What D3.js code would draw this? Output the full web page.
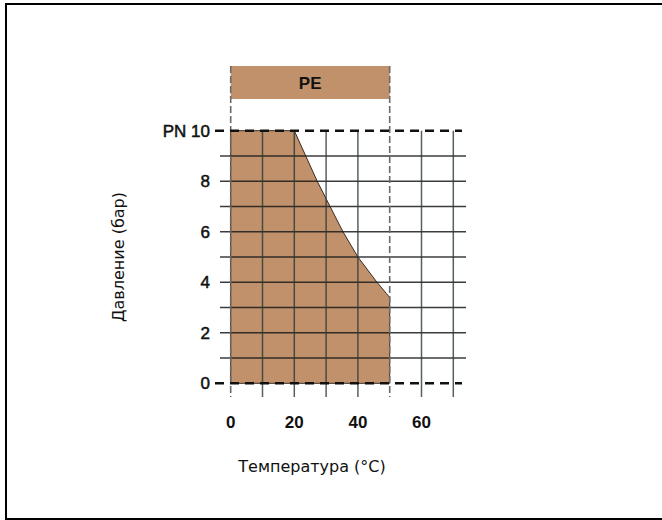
<!DOCTYPE html>
<html>
<head>
<meta charset="utf-8">
<script src="https://cdn.jsdelivr.net/npm/d3@7"></script>
<style>
  body { margin: 0; background: #fff; }
  svg { display: block; }
</style>
</head>
<body>
<div id="chart"></div>
<script>
// pressure / temperature envelope for PE
const tempPoints = [0, 0, 20, 27.2, 35.3, 40, 46, 49, 50, 50];
const pressPoints = [0, 10, 10, 8, 6, 5, 4, 3.55, 3.4, 0];
const xTicks = [0, 20, 40, 60];
const yTicks = [0, 2, 4, 6, 8, 10];
const yTickLabels = ["0", "2", "4", "6", "8", "PN 10"];
const xGrid = [10, 20, 30, 40, 60, 70];
const yGrid = [1, 2, 3, 4, 5, 6, 7, 8, 9];
const bandLabel = "PE";
const bandRange = [0, 50];
const xTitle = "Температура (°C)";
const yTitle = "Давление (бар)";

const width = 662, height = 520;
const fill = "#c0916a";

const svg = d3.select("#chart").append("svg")
  .attr("width", width)
  .attr("height", height);

// frame
svg.append("rect")
  .attr("x", 6).attr("y", 4)
  .attr("width", 700).attr("height", 515)
  .attr("fill", "none")
  .attr("stroke", "#000")
  .attr("stroke-width", 2);

const x = d3.scaleLinear().domain([0, 70]).range([230.7, 453.3]);
const y = d3.scaleLinear().domain([0, 10]).range([383.3, 130.7]);

// PE band
svg.append("rect")
  .attr("x", x(bandRange[0])).attr("y", 66)
  .attr("width", x(bandRange[1]) - x(bandRange[0])).attr("height", 33)
  .attr("fill", fill);
svg.append("text")
  .attr("x", (x(bandRange[0]) + x(bandRange[1])) / 2)
  .attr("y", 89)
  .attr("text-anchor", "middle")
  .attr("font-family", "Liberation Sans, Arial, sans-serif")
  .attr("font-weight", "bold")
  .attr("font-size", 17)
  .attr("fill", "#111")
  .text(bandLabel);

// envelope area
const pts = tempPoints.map((t, i) => [x(t), y(pressPoints[i])]);
svg.append("path")
  .attr("d", d3.line()(pts) + "Z")
  .attr("fill", fill)
  .attr("stroke", "#3a2a20")
  .attr("stroke-width", 1)
  .attr("stroke-linejoin", "round");

// grid
svg.append("g").selectAll("line")
  .data(yGrid)
  .join("line")
  .attr("x1", 220).attr("x2", 466)
  .attr("y1", d => y(d)).attr("y2", d => y(d))
  .attr("stroke", "#1a1a1a")
  .attr("stroke-opacity", 0.85)
  .attr("stroke-width", 1.5);

svg.append("g").selectAll("line")
  .data(xGrid)
  .join("line")
  .attr("x1", d => x(d)).attr("x2", d => x(d))
  .attr("y1", y(10)).attr("y2", 397)
  .attr("stroke", "#2b3a3a")
  .attr("stroke-opacity", 0.8)
  .attr("stroke-width", 1.5);

// dashed band borders
svg.append("g").selectAll("line")
  .data(bandRange)
  .join("line")
  .attr("x1", d => x(d)).attr("x2", d => x(d))
  .attr("y1", 66).attr("y2", 397)
  .attr("stroke", "#6a6a6a")
  .attr("stroke-width", 1.6)
  .attr("stroke-dasharray", "7,3");

// dashed limits
svg.append("g").selectAll("line")
  .data([0, 10])
  .join("line")
  .attr("x1", 215).attr("x2", 462)
  .attr("y1", d => y(d)).attr("y2", d => y(d))
  .attr("stroke", "#111")
  .attr("stroke-width", 2.5)
  .attr("stroke-dasharray", "9,6");

// tick labels
svg.append("g").selectAll("text")
  .data(yTicks)
  .join("text")
  .attr("x", 210)
  .attr("y", d => y(d) + 6)
  .attr("text-anchor", "end")
  .attr("font-family", "Liberation Sans, Arial, sans-serif")
  .attr("font-size", 17)
  .attr("fill", "#111")
  .attr("stroke", "#111")
  .attr("stroke-width", 0.5)
  .text((d, i) => yTickLabels[i]);

svg.append("g").selectAll("text")
  .data(xTicks)
  .join("text")
  .attr("x", d => x(d))
  .attr("y", 428)
  .attr("text-anchor", "middle")
  .attr("font-family", "Liberation Sans, Arial, sans-serif")
  .attr("font-weight", "bold")
  .attr("font-size", 17)
  .attr("fill", "#111")
  .text(d => d);

// axis titles
svg.append("text")
  .attr("x", 312).attr("y", 472)
  .attr("text-anchor", "middle")
  .attr("font-family", "DejaVu Sans, Verdana, sans-serif")
  .attr("font-size", 16)
  .attr("fill", "#111")
  .text(xTitle);

svg.append("text")
  .attr("transform", "translate(124,257) rotate(-90)")
  .attr("text-anchor", "middle")
  .attr("font-family", "DejaVu Sans, Verdana, sans-serif")
  .attr("font-size", 16)
  .attr("fill", "#111")
  .text(yTitle);
</script>
</body>
</html>
